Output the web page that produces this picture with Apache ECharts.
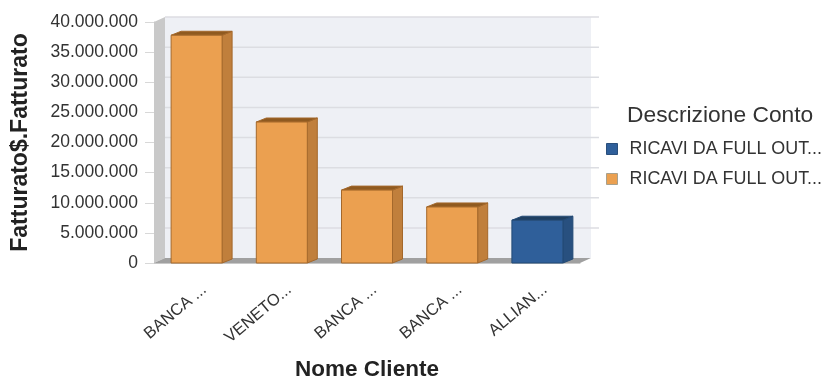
<!DOCTYPE html>
<html>
<head>
<meta charset="utf-8">
<style>html,body{margin:0;padding:0;background:#fff}#c{width:824px;height:379px}</style>
<script src="https://cdn.jsdelivr.net/npm/echarts@6/dist/echarts.min.js"></script>
</head>
<body>
<div id="c"></div>
<script>
const categories = ['BANCA ...', 'VENETO...', 'BANCA ...', 'BANCA ...', 'ALLIAN...'];
const blueValues = [null, null, null, null, 7100000];
const orangeValues = [37800000, 23400000, 12100000, 9300000, null];
const tickValues = [5000000, 10000000, 15000000, 20000000, 25000000, 30000000, 35000000, 40000000];
const blueName = 'RICAVI DA FULL OUT...';
const orangeName = 'RICAVI DA FULL OUT...\u200b';

const DEPTH_X = 11, DEPTH_Y = 5;
const BAR_DX = 10, BAR_DY = 4;
const BAR_W = 51;

const font = '"Liberation Sans", Arial, sans-serif';

// Box-shaped column: front, side and top faces from the value's position on the axes
function boxItem(faces) {
  return function (params, api) {
    const v = api.value(1);
    if (v == null || isNaN(v)) return null;
    const top = api.coord([api.value(0), v]);
    const base = api.coord([api.value(0), 0]);
    const l = top[0] - BAR_W / 2, r = top[0] + BAR_W / 2;
    const t = top[1], b = base[1];
    const poly = (points, fill) => ({
      type: 'polygon', shape: { points },
      style: { fill, stroke: faces.edge, lineWidth: 1 }
    });
    return {
      type: 'group',
      children: [
        poly([[r, t], [r + BAR_DX, t - BAR_DY], [r + BAR_DX, b - BAR_DY], [r, b]], faces.side),
        poly([[l, t], [l + BAR_DX, t - BAR_DY], [r + BAR_DX, t - BAR_DY], [r, t]], faces.top),
        poly([[l, t], [r, t], [r, b], [l, b]], faces.front)
      ]
    };
  };
}

// Back wall, side wall and floor of the plot box
function wallsItem(params, api) {
  const cs = params.coordSys;
  const x0 = cs.x, x1 = cs.x + cs.width, y0 = cs.y, y1 = cs.y + cs.height;
  const p = (points, fill) => ({ type: 'polygon', shape: { points }, style: { fill } });
  return {
    type: 'group',
    children: [
      p([[x0 + DEPTH_X, y0 - DEPTH_Y], [x1 + DEPTH_X, y0 - DEPTH_Y], [x1 + DEPTH_X, y1 - DEPTH_Y], [x0 + DEPTH_X, y1 - DEPTH_Y]], '#eef0f5'),
      p([[x0, y0], [x0 + DEPTH_X, y0 - DEPTH_Y], [x0 + DEPTH_X, y1 - DEPTH_Y], [x0, y1]], '#c9c9c9'),
      p([[x0, y1], [x0 + DEPTH_X, y1 - DEPTH_Y], [x1 + DEPTH_X, y1 - DEPTH_Y], [x1, y1]], '#a0a0a0')
    ]
  };
}

// Gridline on the back wall for one tick value
function gridItem(params, api) {
  const cs = params.coordSys;
  const y = api.coord([0, api.value(0)])[1] - DEPTH_Y;
  return {
    type: 'line',
    shape: { x1: cs.x + DEPTH_X, y1: y, x2: cs.x + cs.width + DEPTH_X + 8, y2: y },
    style: { stroke: '#dcdde2', lineWidth: 1.5 }
  };
}

const chart = echarts.init(document.getElementById('c'), null, { renderer: 'canvas' });
chart.setOption({
  animation: false,
  backgroundColor: '#fff',
  grid: { left: 154, right: 244, top: 22, bottom: 116, outerBoundsMode: 'none' },
  graphic: [{
    type: 'text', left: 627, top: 104,
    style: { text: 'Descrizione Conto', font: '22.8px ' + font, fill: '#333' }
  }],
  legend: {
    orient: 'vertical', left: 601, top: 134,
    itemWidth: 11, itemHeight: 11, itemGap: 10,
    icon: 'rect',
    selectedMode: false,
    textStyle: { fontFamily: font, fontSize: 17.9, color: '#333', lineHeight: 20, padding: [0, 0, 0, 7] },
    data: [
      { name: blueName, itemStyle: { color: '#2f5f9a', borderColor: '#2a4f7c', borderWidth: 1 } },
      { name: orangeName, itemStyle: { color: '#eba050', borderColor: '#a8a08c', borderWidth: 1 } }
    ]
  },
  xAxis: {
    type: 'category',
    data: categories,
    name: 'Nome Cliente',
    nameLocation: 'middle',
    nameGap: 95,
    nameMoveOverlap: false,
    nameTextStyle: { fontFamily: font, fontSize: 22.5, fontWeight: 'bold', color: '#222' },
    axisLine: { show: true, lineStyle: { color: '#c8c8c8' } },
    axisTick: { show: false },
    axisLabel: {
      rotate: 40, interval: 0, margin: 31, padding: [0, -10, 0, 0],
      fontFamily: font, fontSize: 16.5, color: '#333'
    }
  },
  yAxis: {
    type: 'value',
    min: 0, max: 40000000, interval: 5000000,
    name: 'Fatturato$.Fatturato',
    nameLocation: 'middle',
    nameGap: 122,
    nameMoveOverlap: false,
    nameTextStyle: { fontFamily: font, fontSize: 23, fontWeight: 'bold', color: '#222' },
    axisLine: { show: true, lineStyle: { color: '#c8c8c8' } },
    axisTick: { show: true, length: 9, lineStyle: { color: '#d8d8d8' } },
    splitLine: { show: false },
    axisLabel: {
      margin: 16, fontFamily: font, fontSize: 17.5, color: '#333',
      formatter: v => String(v).replace(/\B(?=(\d{3})+$)/g, '.')
    }
  },
  series: [
    { type: 'custom', silent: true, z: 1, renderItem: wallsItem, data: [0], encode: { x: -1, y: -1 } },
    { type: 'custom', silent: true, z: 2, renderItem: gridItem, data: tickValues.map(v => [v]), encode: { x: -1, y: 0 } },
    {
      type: 'custom', name: blueName, z: 3, renderItem: boxItem({ front: '#2f5f9a', side: '#28507f', top: '#1f3f60', edge: '#234a75' }),
      itemStyle: { color: '#2f5f9a' },
      data: blueValues.map((v, i) => [i, v]), encode: { x: 0, y: 1 }
    },
    {
      type: 'custom', name: orangeName, z: 3, renderItem: boxItem({ front: '#eba050', side: '#c07f3c', top: '#8f5a20', edge: '#a4682b' }),
      itemStyle: { color: '#eba050' },
      data: orangeValues.map((v, i) => [i, v]), encode: { x: 0, y: 1 }
    }
  ]
});
</script>
</body>
</html>
